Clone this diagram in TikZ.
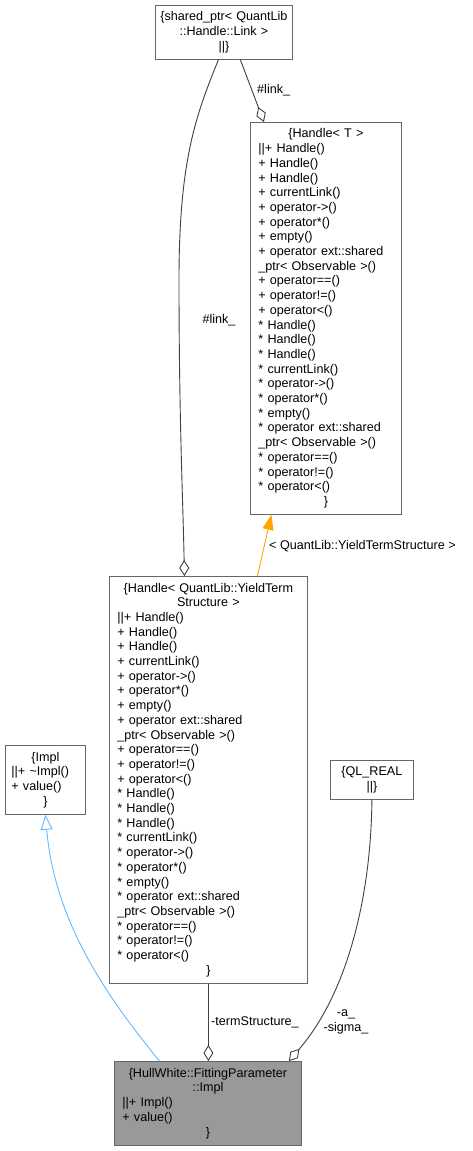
\documentclass[tikz,border=0pt]{standalone}
\usepackage{fontspec}
\setmainfont{Liberation Sans}
\usetikzlibrary{arrows.meta}

\definecolor{boxline}{HTML}{666666}
\definecolor{curfill}{HTML}{999999}
\definecolor{useline}{HTML}{404040}
\definecolor{tmplline}{HTML}{FFA500}
\definecolor{inhline}{HTML}{63B8FF}

\newcommand{\dxfont}{\fontsize{12.6}{14.7}\selectfont}
\newcommand{\centred}[1]{\makebox[\linewidth][c]{#1}}

\tikzset{
  clsbox/.style={draw=boxline, fill=white, anchor=north west, align=left,
    inner xsep=8pt, inner ysep=0pt, font=\dxfont, line width=0.8pt},
  curbox/.style={clsbox, fill=curfill},
  usage/.style={draw=useline, line width=0.9pt,
    -{Diamond[open, length=16pt, width=10pt]}},
  tmpl/.style={draw=tmplline, line width=0.9pt,
    -{Triangle[length=15pt, width=11pt]}},
  inherit/.style={draw=inhline, line width=0.9pt,
    -{Triangle[open, length=15pt, width=12pt]}},
  elabel/.style={font=\dxfont, inner sep=1pt}
}

\begin{document}
\begin{tikzpicture}[x=1pt, y=-1pt]
        \useasboundingbox (0,0) rectangle (472,1151);

        % Draw the shared pointer box
        \node[clsbox, inner xsep=5pt, text width=127pt, minimum height=54pt] (shp) at (155,5)
          {\centred{\{shared\_ptr< QuantLib}\\ \centred{::Handle::Link >}\\ \centred{||\}}};

        % Draw the generic handle box
        \node[clsbox, text width=135pt, minimum height=392pt] (hT) at (250,122)
          {\centred{\{Handle< T >}\\
           ||+ Handle()\\ + Handle()\\ + Handle()\\ + currentLink()\\
           + operator->()\\ + operator*()\\ + empty()\\
           + operator ext::shared\\ \_ptr< Observable >()\\
           + operator==()\\ + operator!=()\\ + operator<()\\
           {*} Handle()\\ {*} Handle()\\ {*} Handle()\\ {*} currentLink()\\
           {*} operator->()\\ {*} operator*()\\ {*} empty()\\
           {*} operator ext::shared\\ \_ptr< Observable >()\\
           {*} operator==()\\ {*} operator!=()\\ {*} operator<()\\
           \centred{\}}};

        % Draw the term structure handle box
        \node[clsbox, text width=182pt, minimum height=407pt] (hY) at (109,576)
          {\centred{\{Handle< QuantLib::YieldTerm}\\ \centred{Structure >}\\
           ||+ Handle()\\ + Handle()\\ + Handle()\\ + currentLink()\\
           + operator->()\\ + operator*()\\ + empty()\\
           + operator ext::shared\\ \_ptr< Observable >()\\
           + operator==()\\ + operator!=()\\ + operator<()\\
           {*} Handle()\\ {*} Handle()\\ {*} Handle()\\ {*} currentLink()\\
           {*} operator->()\\ {*} operator*()\\ {*} empty()\\
           {*} operator ext::shared\\ \_ptr< Observable >()\\
           {*} operator==()\\ {*} operator!=()\\ {*} operator<()\\
           \centred{\}}};

        % Draw the base class box
        \node[clsbox, inner xsep=6pt, text width=68pt, minimum height=69pt] (impl) at (5,745)
          {\centred{\{Impl}\\ ||+ \textasciitilde Impl()\\ + value()\\ \centred{\}}};

        % Draw the real type box
        \node[clsbox, inner xsep=6pt, text width=71pt, minimum height=39pt] (qlr) at (330,760)
          {\centred{\{QL\_REAL}\\ \centred{||\}}};

        % Draw the fitting parameter box
        \node[curbox, text width=171pt, minimum height=84pt] (fp) at (114,1061)
          {\centred{\{HullWhite::FittingParameter}\\ \centred{::Impl}\\
           ||+ Impl()\\ + value()\\ \centred{\}}};

        % Link to the generic handle
        \draw[usage] ([xshift=16.5pt]shp.south) -- ([xshift=-62pt]hT.north);
        \node[elabel, anchor=west] (lk1) at (256,90) {\#link\_};

        % Link to the term structure handle
        \draw[usage] ([xshift=-5.5pt]shp.south) .. controls (196,115) and (179,160) .. (179,280)
          .. controls (179,420) and (183,500) .. ([xshift=-24pt]hY.north);
        \node[elabel] (lk2) at (219,320) {\#link\_};

        % Template instance
        \draw[tmpl] ([xshift=49pt]hY.north) -- ([xshift=-54.5pt]hT.south);
        \node[elabel, anchor=west] (tpl) at (268,546) {< QuantLib::YieldTermStructure >};

        % Term structure member
        \draw[usage] (hY.south) -- (hY.south |- fp.north);
        \node[elabel, anchor=west] (ts) at (210,1022) {-termStructure\_};

        % Real members
        \draw[usage] (qlr.south) .. controls (371,900) and (346,995) .. ([xshift=81pt]fp.north);
        \node[elabel, align=center] (ab) at (346,1022) {-a\_\\ -sigma\_};

        % Inheritance
        \draw[inherit] ([xshift=-48.5pt]fp.north) .. controls (110,1000) and (55,925) .. (impl.south);
    \end{tikzpicture}
\end{document}
